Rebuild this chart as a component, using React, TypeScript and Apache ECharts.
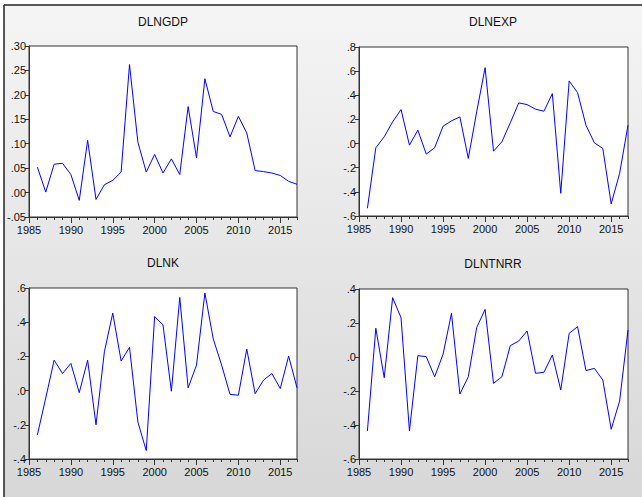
import React, { useEffect, useRef } from "react";
import * as echarts from "echarts";

const years: number[] = Array.from({ length: 32 }, (_, i) => 1986 + i);

const titles = ["DLNGDP", "DLNEXP", "DLNK", "DLNTNRR"];

const dlngdp = [
  0.052, 0.001, 0.058, 0.06, 0.037, -0.016, 0.107, -0.014, 0.016, 0.025, 0.042,
  0.262, 0.103, 0.042, 0.078, 0.04, 0.069, 0.037, 0.176, 0.071, 0.233, 0.166,
  0.16, 0.114, 0.156, 0.122, 0.045, 0.043, 0.04, 0.035, 0.023, 0.017,
];
const dlnexp = [
  -0.536, -0.035, 0.056, 0.18, 0.282, -0.013, 0.111, -0.087, -0.035, 0.144,
  0.188, 0.221, -0.123, 0.263, 0.629, -0.063, 0.015, 0.172, 0.337, 0.323, 0.285,
  0.268, 0.414, -0.412, 0.519, 0.422, 0.152, 0.006, -0.04, -0.5, -0.247, 0.152,
];
const dlnk = [
  -0.259, -0.043, 0.178, 0.1, 0.159, -0.012, 0.178, -0.2, 0.227, 0.453, 0.173,
  0.253, -0.184, -0.351, 0.433, 0.384, -0.004, 0.545, 0.016, 0.149, 0.571, 0.302,
  0.149, -0.022, -0.027, 0.243, -0.018, 0.061, 0.1, 0.012, 0.202, 0.016,
];
const dlntnrr = [
  -0.435, 0.169, -0.122, 0.349, 0.231, -0.435, 0.008, 0.002, -0.116, 0.016,
  0.257, -0.218, -0.116, 0.173, 0.28, -0.155, -0.116, 0.067, 0.094, 0.153,
  -0.096, -0.09, 0.012, -0.194, 0.139, 0.178, -0.08, -0.067, -0.135, -0.425,
  -0.259, 0.159,
];

const seriesValues = [dlngdp, dlnexp, dlnk, dlntnrr];
const yMins = [-0.05, -0.6, -0.4, -0.6];
const yMaxs = [0.3, 0.8, 0.6, 0.4];
const yIntervals = [0.05, 0.2, 0.2, 0.2];
const yDecimals = [2, 1, 1, 1];
const majorYears = [1985, 1990, 1995, 2000, 2005, 2010, 2015];

const gridRects = [
  { left: 29, top: 46, width: 268, height: 171 },
  { left: 359, top: 47, width: 269, height: 169 },
  { left: 29, top: 288, width: 268, height: 171 },
  { left: 359, top: 289, width: 269, height: 170 },
];
const titlePos = [
  { x: 163, y: 22 },
  { x: 493, y: 22 },
  { x: 163, y: 263 },
  { x: 493, y: 264 },
];

const FONT = "'Liberation Sans', Arial, sans-serif";

function fmtY(v: number, d: number): string {
  const s = v.toFixed(d);
  return s.replace(/^(-?)0\./, "$1.");
}

export default function App() {
  const ref = useRef<HTMLDivElement>(null);
  useEffect(() => {
    if (!ref.current) return;
    const chart = echarts.init(ref.current, null, { renderer: "svg" });
    const grids: any[] = [];
    const xAxes: any[] = [];
    const yAxes: any[] = [];
    const series: any[] = [];
    const graphics: any[] = [
      {
        type: "rect",
        shape: { x: 4, y: 5, width: 640, height: 495 },
        style: {
          fill: new echarts.graphic.LinearGradient(0, 0, 0, 1, [
            { offset: 0, color: "#f5f5f5" },
            { offset: 1, color: "#d7d7d7" },
          ]),
        },
        z: -10,
        silent: true,
      },
      {
        type: "line",
        shape: { x1: 4, y1: 5, x2: 642, y2: 5 },
        style: { stroke: "#222", lineWidth: 1.5 },
        silent: true,
      },
      {
        type: "line",
        shape: { x1: 4, y1: 5, x2: 4, y2: 497 },
        style: { stroke: "#222", lineWidth: 1.5 },
        silent: true,
      },
    ];
    for (let i = 0; i < 4; i++) {
      const r = gridRects[i];
      grids.push({
        ...r,
        show: true,
        backgroundColor: "#ffffff",
        borderColor: "#333",
        borderWidth: 1,
        containLabel: false,
      });
      xAxes.push({
        type: "value",
        gridIndex: i,
        min: 1985,
        max: 2017,
        interval: 1,
        position: "bottom",
        axisLine: { show: true, onZero: false, lineStyle: { color: "#333" } },
        axisTick: { show: true, length: 3, lineStyle: { color: "#333" } },
        axisLabel: {
          show: true,
          margin: 7,
          color: "#111",
          fontSize: 11,
          fontFamily: FONT,
          formatter: (v: number) => (v % 5 === 0 && v <= 2015 ? String(v) : ""),
        },
        splitLine: { show: false },
      });
      xAxes.push({
        type: "value",
        gridIndex: i,
        min: 1985,
        max: 2017,
        interval: 5,
        position: "bottom",
        axisLine: { show: false, onZero: false },
        axisTick: {
          show: true,
          length: 6,
          customValues: majorYears,
          lineStyle: { color: "#333" },
        },
        axisLabel: { show: false },
        splitLine: { show: false },
      });
      const d = yDecimals[i];
      yAxes.push({
        type: "value",
        gridIndex: i,
        min: yMins[i],
        max: yMaxs[i],
        interval: yIntervals[i],
        axisLine: { show: true, onZero: false, lineStyle: { color: "#333" } },
        axisTick: { show: true, length: 4, lineStyle: { color: "#333" } },
        axisLabel: {
          margin: 3,
          color: "#111",
          fontSize: 11,
          fontFamily: FONT,
          formatter: (v: number) => fmtY(v, d),
        },
        splitLine: { show: false },
      });
      series.push({
        type: "line",
        xAxisIndex: 2 * i,
        yAxisIndex: i,
        data: years.map((y, k) => [y, seriesValues[i][k]]),
        showSymbol: false,
        symbol: "none",
        lineStyle: { color: "#0000ff", width: 1 },
        itemStyle: { color: "#0000ff" },
        clip: true,
      });
      graphics.push({
        type: "text",
        x: titlePos[i].x,
        y: titlePos[i].y,
        style: {
          text: titles[i],
          fill: "#111",
          font: `12px ${FONT}`,
          textAlign: "center",
          textVerticalAlign: "middle",
        },
        silent: true,
      });
    }
    chart.setOption({
      animation: false,
      backgroundColor: "#ffffff",
      grid: grids,
      xAxis: xAxes,
      yAxis: yAxes,
      series,
      graphic: graphics,
    });
    return () => chart.dispose();
  }, []);
  return (
    <div
      ref={ref}
      style={{ position: "absolute", left: 0, top: 0, width: 642, height: 497 }}
    />
  );
}
